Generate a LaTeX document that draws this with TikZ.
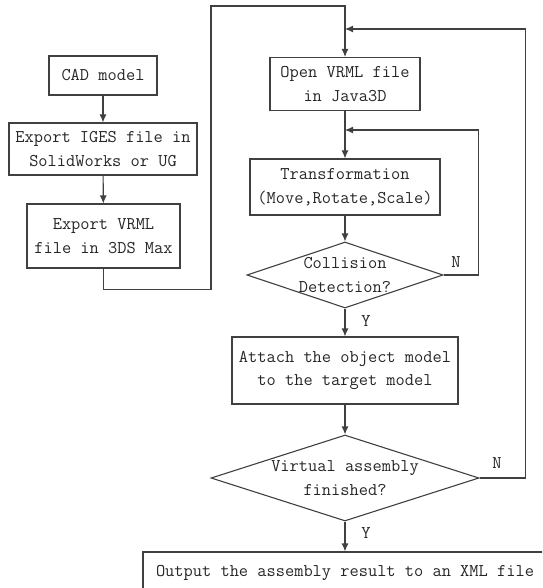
\documentclass[tikz,border=0pt]{standalone}
\usepackage{fontspec}
\usetikzlibrary{arrows.meta, shapes.geometric, calc}

\begin{document}
\begin{tikzpicture}[x=1pt, y=-1pt, >={Latex[length=8pt,width=7pt]},
	every node/.style={font=\ttfamily\fontsize{17.9}{23.5}\selectfont, text=black!85},
	box/.style={draw=black!75, line width=1.1pt, align=center, inner sep=0pt},
	decide/.style={draw=black!75, line width=1.1pt, align=center, shape=diamond, inner sep=-2pt},
	flow/.style={draw=black!75, line width=1.1pt}]
	\useasboundingbox (0,0) rectangle (542,588);
	\clip (0,0) rectangle (542,588);
	% left column
	\node[box, minimum width=108, minimum height=39] (cad) at (103,75.5) {CAD model};
	\node[box, minimum width=188, minimum height=52] (iges) at (103,149) {Export IGES file in\\SolidWorks or UG};
	\node[box, minimum width=153, minimum height=64] (vrml) at (103.5,236) {Export VRML\\file in 3DS Max};
	% right column
	\node[box, minimum width=150, minimum height=53] (open) at (345,84) {Open VRML file\\in Java3D};
	\node[box, minimum width=190, minimum height=56] (trans) at (345,187) {Transformation\\(Move,Rotate,Scale)};
	\node[decide, aspect=2.97, minimum width=196, minimum height=66] (coll) at (345,275) {Collision\\Detection?};
	\node[box, minimum width=226, minimum height=67] (attach) at (345,370.5) {Attach the object model\\to the target model};
	\node[decide, aspect=3.1, minimum width=268, minimum height=86] (virt) at (345,478) {Virtual assembly\\finished?};
	\node[box, minimum width=404, minimum height=42] (out) at (345,573) {Output the assembly result to an XML file};
	\coordinate (j1) at (345,130);
	\coordinate (j2) at (345,29);
	% connectors
	\draw[flow,->] (cad) -- (iges);
	\draw[flow,->] (iges) -- (vrml);
	\draw[flow,->] (vrml.south) -- ++(0,21) -| (211,6) -| (open.north);
	\draw[flow,->] (open) -- (trans);
	\draw[flow,->] (trans) -- (coll);
	\draw[flow,->] (coll.east) -- ++(35,0) |- (j1);
	\draw[flow,->] (coll) -- (attach);
	\draw[flow,->] (attach) -- (virt);
	\draw[flow,->] (virt.east) -- ++(46,0) |- (j2);
	\draw[flow,->] (virt) -- (out);
	% labels
	\node (n1) at (456,262) {N};
	\node (y1) at (366,321) {Y};
	\node (n2) at (497,463) {N};
	\node (y2) at (366,533) {Y};
\end{tikzpicture}
\end{document}
